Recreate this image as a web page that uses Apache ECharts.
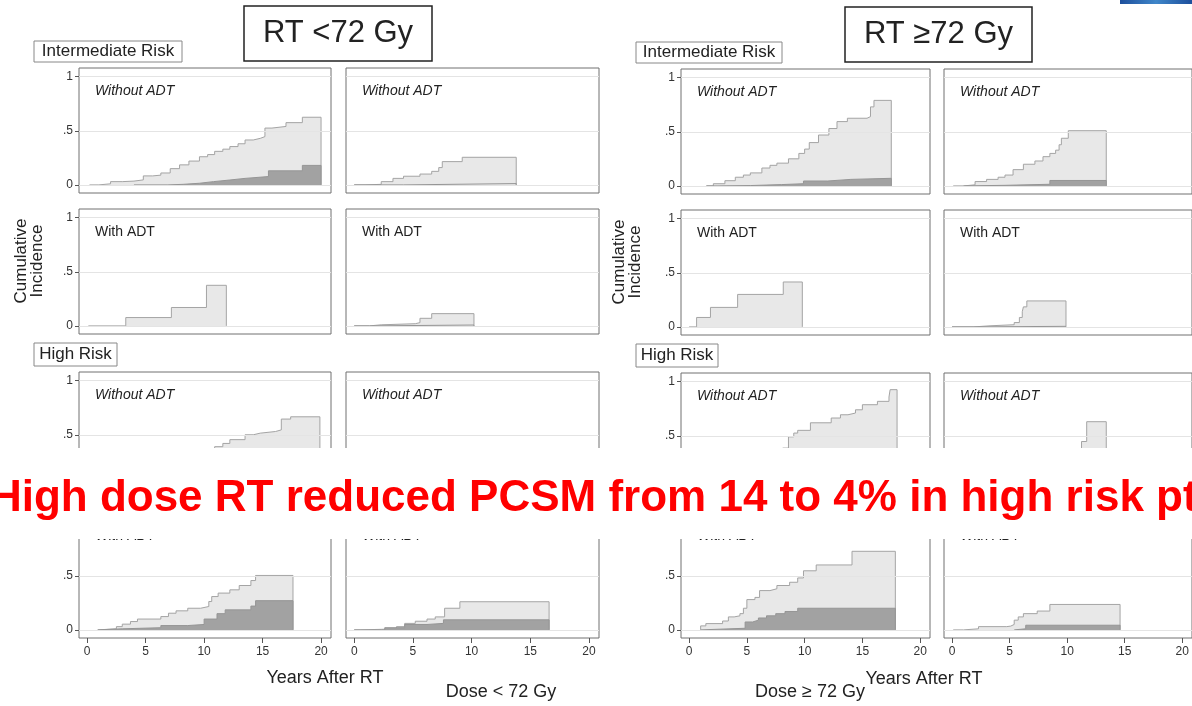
<!DOCTYPE html>
<html>
<head>
<meta charset="utf-8">
<script src="https://cdn.jsdelivr.net/npm/echarts@6.0.0/dist/echarts.min.js"></script>
<style>
html, body { margin: 0; padding: 0; background: #fff; }
#main { width: 1192px; height: 706px; }
</style>
</head>
<body>
<div id="main"></div>
<script>
// ticks
var xTicks = [0, 5, 10, 15, 20];
var yTicks = [0, 0.5, 1];
var yTickLabels = ['0', '.5', '1'];

// RT < 72 Gy : [years, cumulative incidence], light = all events, dark = PCSM
var lt_ir_without_1 = [[0.2,0],[1.0,0.01],[2.0,0.03],[3.0,0.035],[4.0,0.046],[4.8,0.083],[5.6,0.09],[6.3,0.11],[7.1,0.15],[7.9,0.185],[8.7,0.22],[9.6,0.26],[10.3,0.28],[10.9,0.31],[11.6,0.33],[12.2,0.354],[12.9,0.38],[13.5,0.415],[14.2,0.43],[14.8,0.446],[15.2,0.525],[15.8,0.54],[17.0,0.575],[18.4,0.625],[20.0,0.625]];
var lt_ir_without_1_pcsm = [[4.0,0],[6.9,0.005],[8.2,0.015],[9.6,0.03],[10.8,0.045],[12.2,0.06],[13.5,0.077],[15.5,0.13],[18.4,0.18],[20.0,0.18]];
var lt_ir_without_2 = [[0,0],[1.0,0.005],[2.3,0.03],[3.3,0.06],[4.2,0.08],[5.6,0.1],[6.6,0.125],[7.2,0.16],[7.5,0.215],[9.2,0.255],[13.8,0.255]];
var lt_ir_without_2_pcsm = [[0,0],[4.2,0.012],[13.8,0.012]];
var lt_ir_with_1 = [[0.1,0],[3.3,0.077],[7.2,0.17],[10.2,0.375],[11.9,0.375]];
var lt_ir_with_1_pcsm = [];
var lt_ir_with_2 = [[0,0],[1.3,0.01],[2.3,0.02],[5.2,0.03],[5.6,0.07],[6.6,0.113],[10.2,0.113]];
var lt_ir_with_2_pcsm = [[0,0],[1.3,0.008],[10.2,0.008]];
var lt_hr_without_1 = [[0.5,0],[1.2,0.01],[2.0,0.03],[3.0,0.06],[4.1,0.09],[5.0,0.13],[6.1,0.17],[7.0,0.21],[8.0,0.26],[9.1,0.3],[10.1,0.36],[10.9,0.39],[11.6,0.42],[12.2,0.455],[13.5,0.5],[14.2,0.515],[14.8,0.53],[16.1,0.545],[16.6,0.645],[17.4,0.666],[19.9,0.666]];
var lt_hr_without_1_pcsm = [[1.0,0],[3.0,0.02],[6.0,0.05],[9.0,0.09],[12.0,0.12],[15.0,0.14],[19.9,0.14]];
var lt_hr_without_2 = [[0.5,0],[2.0,0.02],[4.0,0.06],[6.0,0.1],[8.0,0.15],[10.0,0.2],[12.0,0.24],[14.0,0.28],[16.5,0.28]];
var lt_hr_without_2_pcsm = [[1.0,0],[5.0,0.03],[10.0,0.08],[16.5,0.08]];
var lt_hr_with_1 = [[0.9,0],[0.9,0.01],[2.5,0.03],[3.0,0.053],[3.7,0.077],[4.3,0.1],[6.3,0.123],[6.95,0.154],[7.6,0.176],[8.6,0.2],[9.7,0.216],[10.4,0.262],[10.65,0.308],[11.2,0.34],[12.2,0.37],[13.0,0.41],[14.0,0.456],[14.4,0.503],[17.6,0.503]];
var lt_hr_with_1_pcsm = [[0.9,0],[0.9,0.01],[3.0,0.02],[6.3,0.04],[8.6,0.05],[10.0,0.1],[11.1,0.15],[11.8,0.185],[14.0,0.22],[14.4,0.27],[17.6,0.27]];
var lt_hr_with_2 = [[0,0],[0.5,0.005],[2.3,0.01],[3.6,0.03],[4.3,0.06],[5.2,0.08],[6.2,0.1],[6.9,0.12],[7.7,0.2],[9.0,0.26],[16.6,0.26]];
var lt_hr_with_2_pcsm = [[0,0],[2.6,0.02],[4.3,0.05],[6.2,0.06],[7.6,0.093],[16.6,0.093]];

// RT >= 72 Gy
var ge_ir_without_1 = [[1.5,0],[2.1,0.02],[3.1,0.048],[4.0,0.08],[4.7,0.1],[5.3,0.12],[6.3,0.165],[7.0,0.19],[7.6,0.21],[8.6,0.25],[9.5,0.3],[10.0,0.34],[10.4,0.4],[11.2,0.47],[12.1,0.53],[12.8,0.594],[13.7,0.625],[15.4,0.64],[15.7,0.73],[16.0,0.79],[17.5,0.79]];
var ge_ir_without_1_pcsm = [[1.5,0],[2.5,0.003],[5.3,0.012],[8.0,0.02],[9.9,0.045],[12.0,0.06],[14.0,0.07],[17.5,0.07]];
var ge_ir_without_2 = [[0.1,0],[1.05,0.01],[2.0,0.04],[3.0,0.06],[4.0,0.08],[4.6,0.1],[5.3,0.15],[6.2,0.2],[7.2,0.23],[7.9,0.27],[8.5,0.3],[9.0,0.33],[9.3,0.38],[9.5,0.44],[10.1,0.51],[13.4,0.51]];
var ge_ir_without_2_pcsm = [[1.0,0],[1.05,0.005],[4.6,0.015],[8.5,0.05],[13.4,0.05]];
var ge_ir_with_1 = [[0,0],[0.65,0.087],[1.85,0.18],[4.2,0.3],[8.15,0.415],[9.8,0.415]];
var ge_ir_with_1_pcsm = [];
var ge_ir_with_2 = [[0,0],[1.9,0.01],[3.3,0.02],[5.4,0.04],[5.85,0.087],[6.1,0.14],[6.2,0.185],[6.5,0.24],[9.9,0.24]];
var ge_ir_with_2_pcsm = [[0,0],[1.9,0.005],[9.9,0.005]];
var ge_hr_without_1 = [[1.0,0],[1.6,0.02],[2.5,0.05],[3.4,0.09],[4.4,0.14],[5.4,0.19],[6.3,0.25],[7.2,0.31],[8.1,0.386],[8.6,0.49],[9.06,0.525],[9.4,0.55],[10.5,0.62],[12.3,0.664],[13.1,0.694],[13.75,0.71],[14.4,0.74],[15.0,0.787],[16.3,0.818],[17.3,0.858],[17.4,0.926],[18.0,0.926]];
var ge_hr_without_1_pcsm = [[1.0,0],[3.0,0.01],[6.0,0.025],[9.0,0.04],[18.0,0.04]];
var ge_hr_without_2 = [[0.5,0],[2.0,0.02],[4.0,0.04],[6.0,0.07],[8.0,0.1],[9.5,0.16],[10.5,0.25],[11.25,0.447],[11.7,0.63],[13.4,0.63]];
var ge_hr_without_2_pcsm = [[0.5,0],[5.0,0.02],[13.4,0.02]];
var ge_hr_with_1 = [[1.0,0],[1.0,0.037],[1.45,0.058],[2.9,0.082],[3.4,0.12],[3.9,0.13],[4.4,0.15],[4.7,0.2],[5.0,0.28],[5.7,0.3],[6.1,0.363],[7.0,0.38],[7.6,0.41],[8.7,0.44],[9.4,0.48],[9.9,0.546],[11.0,0.6],[14.1,0.726],[17.85,0.726]];
var ge_hr_with_1_pcsm = [[1.0,0],[1.0,0.015],[4.85,0.073],[5.5,0.09],[6.0,0.11],[6.7,0.13],[7.5,0.15],[8.3,0.17],[9.4,0.2],[17.85,0.2]];
var ge_hr_with_2 = [[0.1,0],[1.0,0.01],[2.3,0.03],[4.75,0.035],[5.1,0.05],[5.4,0.09],[5.75,0.12],[6.2,0.15],[7.4,0.174],[8.5,0.235],[14.6,0.235]];
var ge_hr_with_2_pcsm = [[5.4,0],[5.4,0.01],[6.4,0.043],[14.6,0.043]];

// panel, row, col, label, all, pcsm
var plots = [
    [0, 0, 0, 'Without ADT', lt_ir_without_1, lt_ir_without_1_pcsm],
    [0, 0, 1, 'Without ADT', lt_ir_without_2, lt_ir_without_2_pcsm],
    [0, 1, 0, 'With ADT', lt_ir_with_1, lt_ir_with_1_pcsm],
    [0, 1, 1, 'With ADT', lt_ir_with_2, lt_ir_with_2_pcsm],
    [0, 2, 0, 'Without ADT', lt_hr_without_1, lt_hr_without_1_pcsm],
    [0, 2, 1, 'Without ADT', lt_hr_without_2, lt_hr_without_2_pcsm],
    [0, 3, 0, 'With ADT', lt_hr_with_1, lt_hr_with_1_pcsm],
    [0, 3, 1, 'With ADT', lt_hr_with_2, lt_hr_with_2_pcsm],
    [1, 0, 0, 'Without ADT', ge_ir_without_1, ge_ir_without_1_pcsm],
    [1, 0, 1, 'Without ADT', ge_ir_without_2, ge_ir_without_2_pcsm],
    [1, 1, 0, 'With ADT', ge_ir_with_1, ge_ir_with_1_pcsm],
    [1, 1, 1, 'With ADT', ge_ir_with_2, ge_ir_with_2_pcsm],
    [1, 2, 0, 'Without ADT', ge_hr_without_1, ge_hr_without_1_pcsm],
    [1, 2, 1, 'Without ADT', ge_hr_without_2, ge_hr_without_2_pcsm],
    [1, 3, 0, 'With ADT', ge_hr_with_1, ge_hr_with_1_pcsm],
    [1, 3, 1, 'With ADT', ge_hr_with_2, ge_hr_with_2_pcsm]
];

// layout (px)
var colLeft = [[79, 346], [681, 944]];
var colWidth = [[252, 253], [249, 253]];
var rowTop = [[68, 209, 372, 513], [69, 210, 373, 513]];
var ROW_H = 125;
var FONT = '"Liberation Sans", Arial, Helvetica, sans-serif';

// close the area down to 0 at the end of follow-up
function closeCurve(points) {
    if (!points.length) return points;
    var last = points[points.length - 1];
    return points.concat([[last[0], 0]]);
}

var grids = [], xAxes = [], yAxes = [], series = [], graphics = [];

plots.forEach(function (p, i) {
    var panel = p[0], row = p[1], col = p[2];
    var left = colLeft[panel][col], top = rowTop[panel][row];
    var bottomRow = row === 3, firstCol = col === 0;

    grids.push({
        left: left, top: top, width: colWidth[panel][col], height: ROW_H,
        show: true, borderColor: '#707070', borderWidth: 1, backgroundColor: '#fff'
    });
    xAxes.push({
        type: 'value', gridIndex: i, min: -0.7, max: 20.85, position: 'bottom',
        axisLine: { show: false, onZero: false },
        axisTick: { show: bottomRow, customValues: xTicks, length: 5, inside: false, lineStyle: { color: '#555' } },
        axisLabel: { show: bottomRow, customValues: xTicks, color: '#333', fontSize: 12, fontFamily: FONT, margin: 8 },
        splitLine: { show: false }
    });
    yAxes.push({
        type: 'value', gridIndex: i, min: -0.075, max: 1.08, position: 'left',
        axisLine: { show: false, onZero: false },
        axisTick: { show: firstCol, customValues: yTicks, length: 4, inside: false, lineStyle: { color: '#555' } },
        axisLabel: {
            show: firstCol, customValues: yTicks, color: '#333', fontSize: 12, fontFamily: FONT, margin: 6,
            formatter: function (v) { return yTickLabels[yTicks.indexOf(v)]; }
        },
        splitLine: { show: false }
    });

    // light grid lines
    series.push({
        type: 'line', xAxisIndex: i, yAxisIndex: i, data: [], z: 1, silent: true,
        markLine: {
            silent: true, symbol: 'none', label: { show: false },
            lineStyle: { color: '#e4e4e4', width: 1, type: 'solid' },
            data: yTicks.map(function (v) { return { yAxis: v }; })
        }
    });
    series.push({
        type: 'line', xAxisIndex: i, yAxisIndex: i, step: 'end', showSymbol: false, symbol: 'none',
        data: closeCurve(p[4]), z: 2, silent: true,
        lineStyle: { color: '#a4a4a4', width: 1 },
        areaStyle: { color: '#e8e8e8', opacity: 1 }
    });
    if (p[5].length) {
        series.push({
            type: 'line', xAxisIndex: i, yAxisIndex: i, step: 'end', showSymbol: false, symbol: 'none',
            data: closeCurve(p[5]), z: 3, silent: true,
            lineStyle: { color: '#959595', width: 1 },
            areaStyle: { color: '#a2a2a2', opacity: 1 }
        });
    }
    graphics.push({
        type: 'text', x: left + 16, y: top + 23, z: 10,
        style: {
            text: p[3], fill: '#222', align: 'left', verticalAlign: 'middle',
            textAlign: 'left', textVerticalAlign: 'middle',
            font: (p[3] === 'Without ADT' ? 'italic ' : '') + '14px ' + FONT
        }
    });
});

function boxText(x, y, w, h, text, size, stroke, lw) {
    graphics.push({
        type: 'rect', z: 20, shape: { x: x, y: y, width: w, height: h },
        style: { fill: '#fff', stroke: stroke, lineWidth: lw }
    });
    plainText(x + w / 2, y + h / 2, text, size, '#222', 21);
}
function plainText(x, y, text, size, color, z) {
    graphics.push({
        type: 'text', x: x, y: y, z: z,
        style: {
            text: text, fill: color, font: size + 'px ' + FONT,
            align: 'center', verticalAlign: 'middle', textAlign: 'center', textVerticalAlign: 'middle'
        }
    });
}

// panel titles and risk group tags
boxText(244, 6, 188, 55, 'RT <72 Gy', 31, '#222', 1.5);
boxText(845, 7, 187, 55, 'RT \u226572 Gy', 31, '#222', 1.5);
boxText(34, 41, 148, 21, 'Intermediate Risk', 17, '#888', 1);
boxText(636, 42, 146, 21, 'Intermediate Risk', 17, '#888', 1);
boxText(34, 343, 83, 23, 'High Risk', 17, '#888', 1);
boxText(636, 344, 82, 23, 'High Risk', 17, '#888', 1);

// axis titles
[[29, 261], [627, 262]].forEach(function (pos) {
    graphics.push({
        type: 'text', x: pos[0], y: pos[1], rotation: Math.PI / 2, z: 10,
        style: {
            text: 'Cumulative\nIncidence', fill: '#222', font: '17px ' + FONT, lineHeight: 16,
            align: 'center', verticalAlign: 'middle', textAlign: 'center', textVerticalAlign: 'middle'
        }
    });
});
plainText(325, 678, 'Years After RT', 18, '#222', 10);
plainText(924, 679, 'Years After RT', 18, '#222', 10);
plainText(501, 692, 'Dose < 72 Gy', 18, '#222', 10);
plainText(810, 692, 'Dose \u2265 72 Gy', 18, '#222', 10);

// corner logo strip
graphics.push({
    type: 'rect', z: 10, shape: { x: 1120, y: 0, width: 72, height: 4 },
    style: {
        fill: new echarts.graphic.LinearGradient(0, 0, 1, 0, [
            { offset: 0, color: '#1d4f9c' }, { offset: 0.5, color: '#3f86c9' }, { offset: 1, color: '#1d4f9c' }
        ])
    }
});

// overlaid banner
graphics.push({
    type: 'rect', z: 100, shape: { x: 0, y: 448, width: 1192, height: 91 },
    style: { fill: '#fff' }
});
graphics.push({
    type: 'text', x: 606, y: 499, z: 101,
    style: {
        text: 'High dose RT reduced PCSM from 14 to 4% in high risk pts', fill: '#ff0000',
        font: 'bold 44px ' + FONT,
        align: 'center', verticalAlign: 'middle', textAlign: 'center', textVerticalAlign: 'middle'
    }
});

var chart = echarts.init(document.getElementById('main'));
chart.setOption({
    animation: false,
    backgroundColor: '#fff',
    grid: grids,
    xAxis: xAxes,
    yAxis: yAxes,
    series: series,
    graphic: { elements: graphics }
});
</script>
</body>
</html>
